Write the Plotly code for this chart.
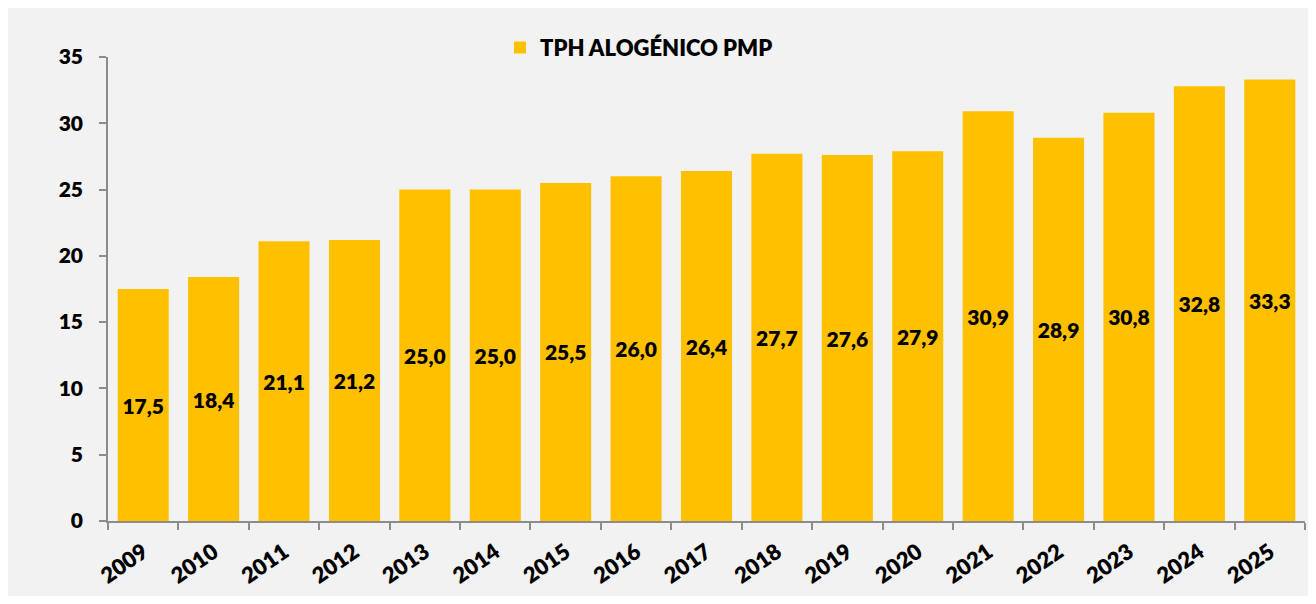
import plotly.graph_objects as go

years = ["2009", "2010", "2011", "2012", "2013", "2014", "2015", "2016", "2017",
         "2018", "2019", "2020", "2021", "2022", "2023", "2024", "2025"]
values = [17.5, 18.4, 21.1, 21.2, 25.0, 25.0, 25.5, 26.0, 26.4,
          27.7, 27.6, 27.9, 30.9, 28.9, 30.8, 32.8, 33.3]
series_name = "TPH ALOGÉNICO PMP"

FONT = "Lato"
BG = "#F2F2F2"
BAR = "#FFC000"
AXIS = "#8C8C8C"

fig = go.Figure()
fig.add_trace(go.Bar(
    x=years, y=values, name=series_name,
    marker=dict(color=BAR, line=dict(width=0)),
    texttemplate="%{y:.1f}", textposition="inside", insidetextanchor="middle",
    textangle=0,
    textfont=dict(family=FONT, size=21, color="black", weight=800),
    showlegend=True,
))

fig.update_layout(
    width=1300, height=588,
    margin=dict(l=100, r=3, t=49, b=75),
    paper_bgcolor=BG, plot_bgcolor=BG,
    separators=",.",
    bargap=0.275,
    font=dict(family=FONT, size=21, color="black", weight=800),
    showlegend=True,
    legend=dict(x=0.3275, y=1.02, xanchor="left", yanchor="middle",
                orientation="h", bgcolor="rgba(0,0,0,0)",
                font=dict(family=FONT, size=22, color="black", weight=800),
                itemwidth=30),
    xaxis=dict(type="category", showgrid=False, showline=True, linecolor=AXIS,
               linewidth=1.5, ticks="outside", tickson="boundaries", ticklen=7,
               tickcolor=AXIS, tickwidth=1.5, tickangle=-35, ticklabelstandoff=8,
               tickfont=dict(family=FONT, size=22, color="black", weight=800)),
    yaxis=dict(range=[0, 35], dtick=5, showgrid=False, showline=True, linecolor=AXIS,
               linewidth=1.5, ticks="outside", ticklen=7, tickcolor=AXIS, tickwidth=1.5,
               zeroline=False, ticklabelstandoff=12,
               tickfont=dict(family=FONT, size=21, color="black", weight=800)),
)

fig.write_html("out.html")
